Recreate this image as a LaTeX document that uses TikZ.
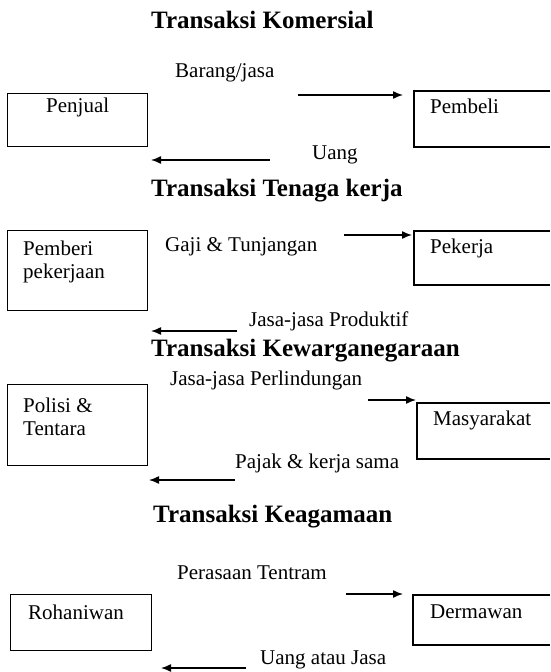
\documentclass[tikz,border=0pt]{standalone}
\usepackage{fontspec}
\setmainfont{Liberation Serif}
\usetikzlibrary{arrows.meta}

\begin{document}
\begin{tikzpicture}[x=1pt,y=-1pt,
	judul/.style={font=\fontsize{25}{29}\selectfont\bfseries, anchor=west, inner sep=0pt},
	teks/.style={font=\fontsize{21}{23}\selectfont, anchor=west, inner sep=0pt, align=left},
	kotak/.style={draw, line width=1.4pt, anchor=north west, inner sep=0pt},
	tepi/.style={line width=1.4pt},
	aliran/.style={line width=1.4pt, -{Latex[length=10pt,width=8pt]}}]
	\useasboundingbox (0,0) rectangle (550,672);
	% Transaksi Komersial
	\node[judul] (t1) at (151,20){Transaksi Komersial};
	\node[kotak, minimum width=140pt, minimum height=53pt] (penjual) at (7,93){};
	\draw[tepi] (550,91) -| (414,147) -- (550,147);%pembeli
	\node[teks] (n1) at (46,107){Penjual};
	\node[teks] (n2) at (430,106){Pembeli};
	\node[teks] (l1) at (175,73){Barang/jasa};
	\node[teks] (l2) at (312,155){Uang};
	\coordinate (k1a) at (298,95);
	\coordinate (k1b) at (403,95);
	\coordinate (k2a) at (270,160);
	\coordinate (k2b) at (151,160);
	\draw[aliran] (k1a) -- (k1b);
	\draw[aliran] (k2a) -- (k2b);
	% Transaksi Tenaga kerja
	\node[judul] (t2) at (151,191){Transaksi Tenaga kerja};
	\node[kotak, minimum width=140pt, minimum height=80pt] (pemberi) at (7,230){};
	\draw[tepi] (550,231) -| (414,285) -- (550,285);%pekerja
	\node[teks] (n3) at (23,262){Pemberi\\pekerjaan};
	\node[teks] (n4) at (430,248){Pekerja};
	\node[teks] (l3) at (165,247){Gaji \& Tunjangan};
	\node[teks] (l4) at (249,321){Jasa-jasa Produktif};
	\coordinate (k3a) at (344,235);
	\coordinate (k3b) at (412,235);
	\coordinate (k4a) at (237,331);
	\coordinate (k4b) at (151,331);
	\draw[aliran] (k3a) -- (k3b);
	\draw[aliran] (k4a) -- (k4b);
	% Transaksi Kewarganegaraan
	\node[judul] (t3) at (151,351){Transaksi Kewarganegaraan};
	\node[kotak, minimum width=140pt, minimum height=81pt] (polisi) at (7,384){};
	\draw[tepi] (550,403) -| (417,459) -- (550,459);%masyarakat
	\node[teks] (n5) at (23,417){Polisi \&\\Tentara};
	\node[teks] (n6) at (433,420){Masyarakat};
	\node[teks] (l5) at (170,380){Jasa-jasa Perlindungan};
	\node[teks] (l6) at (235,463){Pajak \& kerja sama};
	\coordinate (k5a) at (368,400);
	\coordinate (k5b) at (416,400);
	\coordinate (k6a) at (235,480);
	\coordinate (k6b) at (149,480);
	\draw[aliran] (k5a) -- (k5b);
	\draw[aliran] (k6a) -- (k6b);
	% Transaksi Keagamaan
	\node[judul] (t4) at (153,517){Transaksi Keagamaan};
	\node[kotak, minimum width=141pt, minimum height=56pt] (rohaniwan) at (10,594){};
	\draw[tepi] (550,595) -| (413,645) -- (550,645);%dermawan
	\node[teks] (n7) at (28,612){Rohaniwan};
	\node[teks] (n8) at (430,612){Dermawan};
	\node[teks] (l7) at (177,573){Perasaan Tentram};
	\node[teks] (l8) at (260,660){Uang atau Jasa};
	\coordinate (k7a) at (346,594);
	\coordinate (k7b) at (403,594);
	\coordinate (k8a) at (246,668);
	\coordinate (k8b) at (161,668);
	\draw[aliran] (k7a) -- (k7b);
	\draw[aliran] (k8a) -- (k8b);
\end{tikzpicture}
\end{document}
